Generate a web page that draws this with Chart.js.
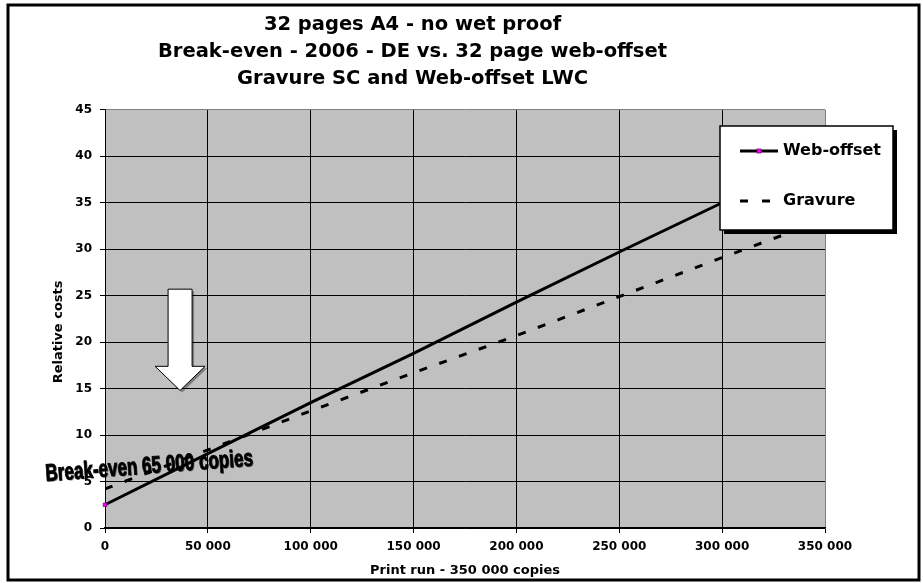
<!DOCTYPE html>
<html>
<head>
<meta charset="utf-8">
<script src="https://cdn.jsdelivr.net/npm/chart.js@4.4.1/dist/chart.umd.min.js"></script>
<style>
  html, body { margin: 0; padding: 0; background: #fff; }
  canvas { display: block; }
</style>
</head>
<body>
<canvas id="chart" width="923" height="583"></canvas>
<script>
// Print runs (copies) and relative costs per process
const printRuns = [0, 50000, 100000, 150000, 200000, 250000, 300000, 350000];
const webOffset = [2.5, 8.0, 13.5, 18.8, 24.3, 29.7, 35.0, 40.4];
const gravure   = [4.2, 8.4, 12.6, 16.7, 20.7, 24.9, 29.1, 33.2];
const seriesNames = ['Web-offset', 'Gravure'];

const xTickValues = [0, 50000, 100000, 150000, 200000, 250000, 300000, 350000];
const xTickLabels = ['0', '50 000', '100 000', '150 000', '200 000', '250 000', '300 000', '350 000'];
const yTickValues = [0, 5, 10, 15, 20, 25, 30, 35, 40, 45];
const yTickLabels = ['0', '5', '10', '15', '20', '25', '30', '35', '40', '45'];

const titleLines = [
  '32 pages A4 - no wet proof',
  'Break-even - 2006 - DE vs. 32 page web-offset',
  'Gravure SC and Web-offset LWC'
];
const xAxisTitle = 'Print run - 350 000 copies';
const yAxisTitle = 'Relative costs';

// Break-even callout: text anchor and the down arrow, both in data units
const breakEvenLabel = 'Break-even 65 000 copies';
const breakEvenAnchor = { x: 21500, y: 6.6 };
const arrowSpec = { x: 36500, topY: 25.7, baseY: 17.4, tipY: 14.8 };

const FONT = '"DejaVu Sans", "Liberation Sans", sans-serif';

const backgroundPlugin = {
  id: 'plotBackground',
  beforeDraw(chart) {
    const { ctx, chartArea: a } = chart;
    ctx.save();
    ctx.fillStyle = '#ffffff';
    ctx.fillRect(0, 0, chart.width, chart.height);
    ctx.fillStyle = '#c0c0c0';
    ctx.fillRect(a.left, a.top, a.right - a.left, a.bottom - a.top);
    ctx.restore();
  }
};

const decorPlugin = {
  id: 'decor',
  afterDraw(chart) {
    const { ctx } = chart;
    const xs = chart.scales.x, ys = chart.scales.y;

    // Y axis title, rotated, sitting a little below the plot's middle
    ctx.save();
    ctx.translate(59, ys.getPixelForValue(21.1));
    ctx.rotate(-Math.PI / 2);
    ctx.font = 'bold 13px ' + FONT;
    ctx.fillStyle = '#000';
    ctx.textAlign = 'center';
    ctx.textBaseline = 'middle';
    ctx.fillText(yAxisTitle, 0, 0);
    ctx.restore();

    // Legend box with drop shadow
    const lb = { left: 720, top: 126, right: 893, bottom: 230 };
    ctx.save();
    ctx.fillStyle = '#000';
    ctx.fillRect(lb.left + 4, lb.top + 4, lb.right - lb.left, lb.bottom - lb.top);
    ctx.fillStyle = '#fff';
    ctx.fillRect(lb.left, lb.top, lb.right - lb.left, lb.bottom - lb.top);
    ctx.strokeStyle = '#000';
    ctx.lineWidth = 1.5;
    ctx.strokeRect(lb.left, lb.top, lb.right - lb.left, lb.bottom - lb.top);

    // Web-offset entry
    const y1 = lb.top + 25;
    ctx.lineWidth = 3;
    ctx.beginPath();
    ctx.moveTo(lb.left + 20, y1);
    ctx.lineTo(lb.left + 58, y1);
    ctx.stroke();
    ctx.fillStyle = '#ff00ff';
    ctx.fillRect(lb.left + 37, y1 - 2, 4, 4);
    ctx.strokeStyle = '#800080';
    ctx.lineWidth = 0.8;
    ctx.strokeRect(lb.left + 37, y1 - 2, 4, 4);

    // Gravure entry
    const y2 = lb.top + 75;
    ctx.strokeStyle = '#000';
    ctx.lineWidth = 3;
    ctx.setLineDash([8, 14]);
    ctx.beginPath();
    ctx.moveTo(lb.left + 20, y2);
    ctx.lineTo(lb.left + 54, y2);
    ctx.stroke();
    ctx.setLineDash([]);

    ctx.fillStyle = '#000';
    ctx.font = 'bold 16px ' + FONT;
    ctx.textAlign = 'left';
    ctx.textBaseline = 'middle';
    ctx.fillText(chart.data.datasets[0].label, lb.left + 63, y1);
    ctx.fillText(chart.data.datasets[1].label, lb.left + 63, y2);
    ctx.restore();

    // Down arrow pointing at the crossover
    const tx = xs.getPixelForValue(arrowSpec.x);
    const topY = ys.getPixelForValue(arrowSpec.topY);
    const baseY = ys.getPixelForValue(arrowSpec.baseY);
    const tipY = ys.getPixelForValue(arrowSpec.tipY);
    const sw = 12, hw = 25;
    ctx.save();
    ctx.beginPath();
    ctx.moveTo(tx - sw, topY);
    ctx.lineTo(tx + sw, topY);
    ctx.lineTo(tx + sw, baseY);
    ctx.lineTo(tx + hw, baseY);
    ctx.lineTo(tx, tipY);
    ctx.lineTo(tx - hw, baseY);
    ctx.lineTo(tx - sw, baseY);
    ctx.closePath();
    ctx.shadowColor = 'rgba(0,0,0,0.35)';
    ctx.shadowOffsetX = 2;
    ctx.shadowOffsetY = 2;
    ctx.fillStyle = '#ffffff';
    ctx.fill();
    ctx.shadowColor = 'transparent';
    ctx.strokeStyle = '#000';
    ctx.lineWidth = 1;
    ctx.stroke();
    ctx.restore();

    // Break-even caption, slightly tilted
    const cx = xs.getPixelForValue(breakEvenAnchor.x);
    const cy = ys.getPixelForValue(breakEvenAnchor.y);
    ctx.save();
    ctx.font = 'bold 24px "Liberation Sans Narrow", "Liberation Sans", sans-serif';
    const w = ctx.measureText(breakEvenLabel).width;
    ctx.translate(cx, cy);
    ctx.rotate(-0.075);
    ctx.scale(208 / w, 1);
    ctx.textAlign = 'center';
    ctx.textBaseline = 'middle';
    ctx.shadowColor = 'rgba(0,0,0,0.45)';
    ctx.shadowOffsetX = 1;
    ctx.shadowOffsetY = 1;
    ctx.fillStyle = '#000';
    ctx.fillText(breakEvenLabel, 0, 0);
    ctx.shadowColor = 'transparent';
    ctx.strokeStyle = '#000';
    ctx.lineWidth = 0.9;
    ctx.strokeText(breakEvenLabel, 0, 0);
    ctx.restore();

    // Outer frame
    ctx.save();
    ctx.strokeStyle = '#000';
    ctx.lineWidth = 3;
    ctx.strokeRect(8, 5, 911, 575);
    ctx.restore();
  }
};

const tickFont = { family: FONT, size: 12, weight: 'bold' };

new Chart(document.getElementById('chart').getContext('2d'), {
  type: 'line',
  data: {
    datasets: [
      {
        label: seriesNames[0],
        data: printRuns.map((x, i) => ({ x, y: webOffset[i] })),
        borderColor: '#000',
        borderWidth: 3,
        tension: 0,
        pointStyle: 'rect',
        pointRadius: c => (c.dataIndex === 0 || c.dataIndex === printRuns.length - 1) ? 2.5 : 0,
        pointBackgroundColor: '#ff00ff',
        pointBorderColor: '#800080',
        pointBorderWidth: 0.8,
        clip: false
      },
      {
        label: seriesNames[1],
        data: printRuns.map((x, i) => ({ x, y: gravure[i] })),
        borderColor: '#000',
        borderWidth: 3,
        borderDash: [8, 13],
        tension: 0,
        pointRadius: 0
      }
    ]
  },
  options: {
    responsive: false,
    animation: false,
    devicePixelRatio: 1,
    layout: { padding: { left: 0, right: 98, top: 0, bottom: 0 } },
    plugins: {
      legend: { display: false },
      tooltip: { enabled: false },
      title: {
        display: true,
        text: titleLines,
        color: '#000',
        font: { family: FONT, size: 19.5, weight: 'bold', lineHeight: 1.39 },
        padding: { top: 11, bottom: 17.5 }
      }
    },
    scales: {
      x: {
        type: 'linear',
        min: 0,
        max: 350000,
        afterBuildTicks: s => { s.ticks = xTickValues.map(v => ({ value: v })); },
        afterFit: s => { s.height = 55; },
        ticks: {
          callback: v => xTickLabels[xTickValues.indexOf(v)],
          color: '#000',
          font: tickFont,
          padding: 7,
          maxRotation: 0,
          autoSkip: false
        },
        grid: {
          color: c => (c.tick && c.tick.value === 350000) ? '#808080' : '#000',
          lineWidth: 1,
          tickLength: 5,
          tickColor: '#000'
        },
        border: { color: '#000', width: 1.5 },
        title: {
          display: true,
          text: xAxisTitle,
          color: '#000',
          font: { family: FONT, size: 13, weight: 'bold' },
          padding: { top: 0, bottom: 5 }
        }
      },
      y: {
        min: 0,
        max: 45,
        afterBuildTicks: s => { s.ticks = yTickValues.map(v => ({ value: v })); },
        afterFit: s => { s.width = 105; },
        ticks: {
          callback: v => yTickLabels[yTickValues.indexOf(v)],
          color: '#000',
          font: tickFont,
          padding: 8
        },
        grid: {
          color: c => (c.tick && c.tick.value === 45) ? '#808080' : '#000',
          lineWidth: 1,
          tickLength: 5,
          tickColor: '#000'
        },
        border: { color: '#000', width: 1 }
      }
    }
  },
  plugins: [backgroundPlugin, decorPlugin]
});
</script>
</body>
</html>
